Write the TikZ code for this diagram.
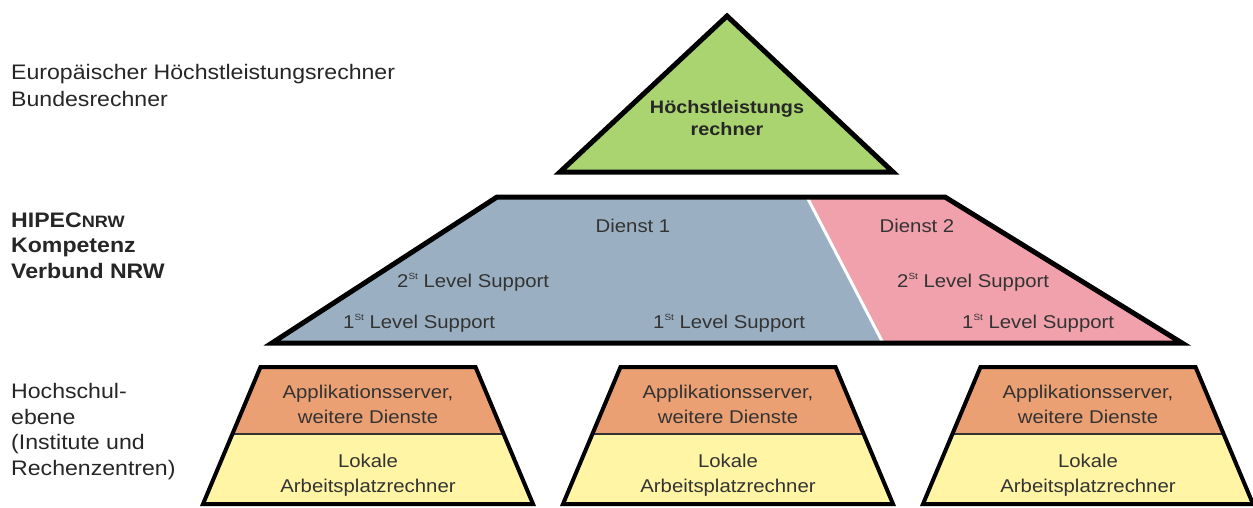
\documentclass[tikz,border=0pt]{standalone}
\usepackage{fontspec}
\setmainfont{Liberation Sans}[FakeStretch=1.1]
\usepackage{tikz}
\usetikzlibrary{positioning}
\definecolor{hlrgreen}{HTML}{A9D46F}
\definecolor{dienstblue}{HTML}{9AB0C2}
\definecolor{dienstpink}{HTML}{F0A1AB}
\definecolor{apporange}{HTML}{EBA073}
\definecolor{lokyellow}{HTML}{FFF5A5}
\definecolor{labelgray}{HTML}{262626}
\definecolor{textgray}{HTML}{333333}
\newcommand{\lvlsup}{\raisebox{0.42em}{\fontsize{9}{9}\selectfont St}}

\begin{document}
\begin{tikzpicture}[x=1pt, y=-1pt,
  outline/.style={draw=black, line width=5pt},
  sidetext/.style={anchor=base west, align=left, inner sep=0pt, text=labelgray, font=\fontsize{21}{25.5}\selectfont},
  boxtext/.style={anchor=base, align=center, inner sep=0pt, text=textgray, font=\fontsize{18.5}{25}\selectfont},
  leveltext/.style={anchor=base west, inner sep=0pt, text=textgray, font=\fontsize{18.5}{22}\selectfont},
]
  \useasboundingbox (0,0) rectangle (1253,507);

  % Ebenen links (base = Grundlinie der letzten Zeile)
  \node[sidetext, font=\fontsize{21}{27}\selectfont] (euro) at (11,106) {Europäischer Höchstleistungsrechner\\Bundesrechner};
  \node[sidetext, font=\bfseries\fontsize{21}{25.5}\selectfont] (hipec) at (11,278) {HIPEC{\fontsize{16.5}{16.5}\selectfont NRW}\\Kompetenz\\Verbund NRW};
  \node[sidetext] (hochschul) at (11,475) {Hochschul-\\ebene\\(Institute und\\Rechenzentren)};

  % Spitze
  \draw[outline, fill=hlrgreen] (727,16) -- (893,172) -- (560,172) -- cycle;
  \node[boxtext, text=black!85, font=\bfseries\fontsize{18}{22}\selectfont] (hlr) at (727,135) {Höchstleistungs\\rechner};

  % Kompetenzverbund
  \fill[dienstblue] (497,197) -- (807,197) -- (883,343) -- (272,343) -- cycle;
  \fill[dienstpink] (807,197) -- (945,197) -- (1182,343) -- (883,343) -- cycle;
  \draw[white, line width=3pt] (807,197) -- (883,343);
  \draw[outline] (497,197) -- (945,197) -- (1182,343) -- (272,343) -- cycle;

  \node[boxtext] (dienst1) at (633,232) {Dienst 1};
  \node[boxtext] (dienst2) at (917,232) {Dienst 2};
  \node[leveltext] (second1) at (397,287) {2\lvlsup\ Level Support};
  \node[leveltext] (second2) at (897,287) {2\lvlsup\ Level Support};
  \node[leveltext] (first1) at (343,328) {1\lvlsup\ Level Support};
  \node[leveltext] (first2) at (653,328) {1\lvlsup\ Level Support};
  \node[leveltext] (first3) at (962,328) {1\lvlsup\ Level Support};

  % Hochschulebene
  \foreach \c [count=\i] in {368,728,1088} {
    \fill[apporange] ({\c-107.5},367) -- ({\c+107.5},367) -- ({\c+135.6},434) -- ({\c-135.6},434) -- cycle;
    \fill[lokyellow] ({\c-135.6},434) -- ({\c+135.6},434) -- ({\c+165},504) -- ({\c-165},504) -- cycle;
    \draw[textgray, line width=1.5pt] ({\c-135.6},434) -- ({\c+135.6},434);
    \draw[outline, line width=4pt] ({\c-107.5},367) -- ({\c+107.5},367) -- ({\c+165},504) -- ({\c-165},504) -- cycle;
    \node[boxtext] (app\i) at (\c,423) {Applikationsserver,\\weitere Dienste};
    \node[boxtext] (lok\i) at (\c,492) {Lokale\\Arbeitsplatzrechner};
  }
\end{tikzpicture}
\end{document}
